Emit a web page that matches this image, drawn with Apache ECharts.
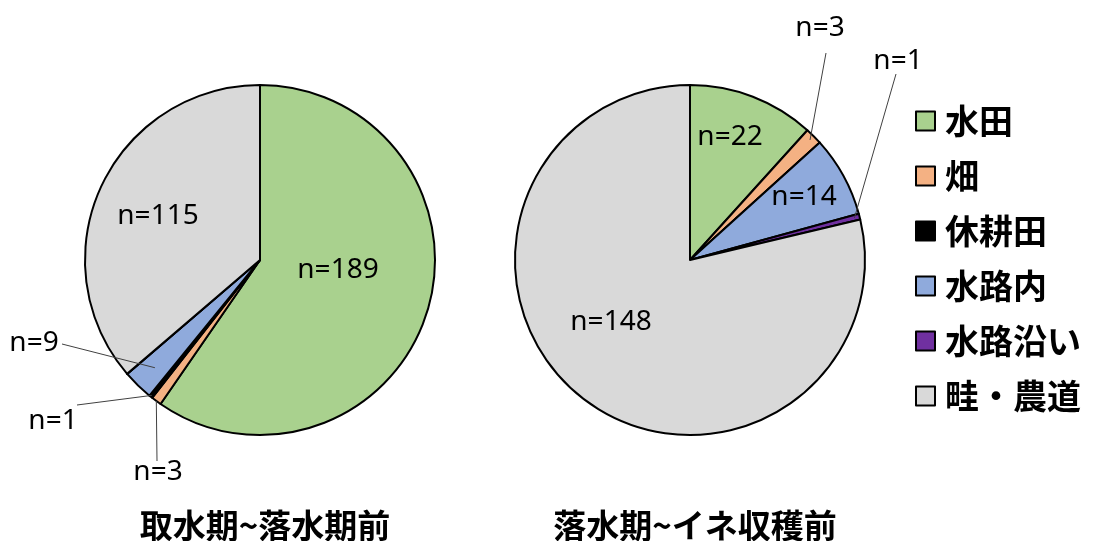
<!DOCTYPE html>
<html>
<head>
<meta charset="utf-8">
<script src="https://cdn.jsdelivr.net/npm/echarts@6/dist/echarts.min.js"></script>
<style>
html, body { margin: 0; padding: 0; background: #fff; }
#chart { width: 1098px; height: 541px; }
</style>
</head>
<body>
<div id="chart"></div>
<script>
var categories = ['水田', '畑', '休耕田', '水路内', '水路沿い', '畦・農道'];
var periods = ['取水期~落水期前', '落水期~イネ収穫前'];
var countsBefore = [189, 3, 1, 9, 0, 115];
var countsAfter = [22, 3, 0, 14, 1, 148];
var colors = ['#A9D18E', '#F4B183', '#000000', '#8FAADC', '#7030A0', '#D9D9D9'];

// where each "n=" label sits (text centre) and where its leader line ends
var pieCenters = [[260, 260], [690, 260]];
var labelSpots = [
    [{x: 338, y: 270}, {x: 158, y: 472, end: [157, 461], k: 1}, {x: 53, y: 421, end: [77, 405], k: 0.99},
     {x: 34, y: 343, end: [62, 344], k: 0.86}, null, {x: 158, y: 216}],
    [{x: 730, y: 137}, {x: 820, y: 28, end: [826, 53], k: 0.97}, null,
     {x: 804, y: 197}, {x: 898, y: 61, end: [896, 74], k: 0.97}, {x: 611, y: 322}]
];

var myChart = echarts.init(document.getElementById('chart'));

// filled slices with black borders
function pieSeries(counts, s) {
    return {
        name: periods[s],
        type: 'pie',
        center: pieCenters[s],
        radius: 175,
        startAngle: 90,
        clockwise: true,
        silent: true,
        itemStyle: {borderColor: '#000', borderWidth: 2},
        label: {show: false},
        labelLine: {show: false},
        data: categories.map(function (name, i) { return {name: name, value: counts[i]}; })
    };
}

// same slices, transparent, drawn on top so the "n=" labels and leader lines sit above the fill
function labelSeries(counts, s) {
    return {
        name: periods[s] + ' labels',
        type: 'pie',
        z: 3,
        center: pieCenters[s],
        radius: 175,
        startAngle: 90,
        clockwise: true,
        silent: true,
        avoidLabelOverlap: false,
        itemStyle: {color: 'rgba(0,0,0,0)', borderWidth: 0},
        label: {
            formatter: 'n={c}',
            color: '#000',
            fontFamily: 'Noto Sans',
            fontSize: 28
        },
        labelLine: {lineStyle: {color: '#404040', width: 1}},
        labelLayout: function (params) {
            var spot = labelSpots[s][params.dataIndex];
            if (!spot) return {};
            var out = {x: spot.x, y: spot.y, align: 'center', verticalAlign: 'middle'};
            if (spot.end && params.labelLinePoints) {
                var c = pieCenters[s];
                var p0 = params.labelLinePoints[0];
                var start = [c[0] + (p0[0] - c[0]) * spot.k, c[1] + (p0[1] - c[1]) * spot.k];
                out.labelLinePoints = [start, spot.end];
            }
            return out;
        },
        data: categories.map(function (name, i) {
            var spot = labelSpots[s][i];
            var hasLine = !!(spot && spot.end);
            return {
                name: name,
                value: counts[i],
                label: {show: counts[i] > 0, position: hasLine ? 'outside' : 'inside'},
                labelLine: {show: hasLine && counts[i] > 0}
            };
        })
    };
}

var option = {
    animation: false,
    color: colors,
    title: [
        {text: periods[0], left: 260, top: 504, textAlign: 'center',
         textStyle: {fontFamily: 'Noto Sans CJK JP', fontSize: 33, fontWeight: 'bold', color: '#000'}},
        {text: periods[1], left: 690, top: 504, textAlign: 'center',
         textStyle: {fontFamily: 'Noto Sans CJK JP', fontSize: 33, fontWeight: 'bold', color: '#000'}}
    ],
    legend: {
        orient: 'vertical',
        left: 910,
        top: 98,
        icon: 'rect',
        itemWidth: 19,
        itemHeight: 19,
        itemGap: 19,
        selectedMode: false,
        itemStyle: {borderColor: '#000', borderWidth: 2},
        textStyle: {fontFamily: 'Noto Sans CJK JP', fontSize: 34, fontWeight: 'bold', color: '#000',
                    lineHeight: 36, padding: [0, 0, 0, 5]},
        data: categories
    },
    series: [
        pieSeries(countsBefore, 0), pieSeries(countsAfter, 1),
        labelSeries(countsBefore, 0), labelSeries(countsAfter, 1)
    ]
};

myChart.setOption(option);
</script>
</body>
</html>
